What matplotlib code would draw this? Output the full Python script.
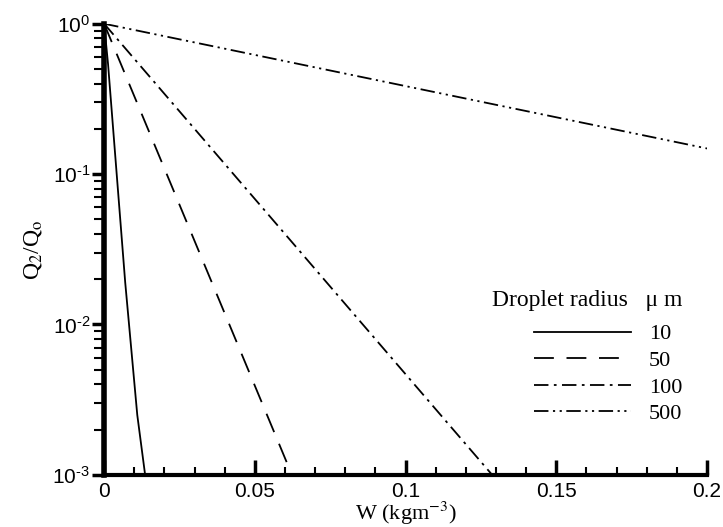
import numpy as np
import matplotlib
matplotlib.use('Agg')
import matplotlib.pyplot as plt
from matplotlib.ticker import MultipleLocator, LogLocator, NullFormatter

plt.rcParams['mathtext.fontset'] = 'custom'
plt.rcParams['mathtext.rm'] = 'Liberation Sans'
plt.rcParams['mathtext.it'] = 'Liberation Sans:italic'
plt.rcParams['mathtext.bf'] = 'Liberation Sans:bold'

# values
w_10 = [0.0, 0.0013, 0.007, 0.011, 0.0136]
q_10 = [1.0, 0.54, 0.019, 0.0025, 0.001]
w_50 = [0.0, 0.0623]
q_50 = [1.0, 0.001]
w_100 = [0.0, 0.1287]
q_100 = [1.0, 0.001]
w_500 = [0.0, 0.2]
q_500 = [1.0, 0.148]
radius_labels = ['10', '50', '100', '500']

ytick_vals = [1e-3, 1e-2, 1e-1, 1.0]
ytick_labels = ['$10^{\\text{-}3}$', '$10^{\\text{-}2}$', '$10^{\\text{-}1}$', '$10^{0}$']
xtick_vals = [0, 0.05, 0.1, 0.15, 0.2]
xtick_labels = ['0', '0.05', '0.1', '0.15', '0.2']

fig = plt.figure(figsize=(7.23, 5.27), dpi=100)
ax = fig.add_axes([0.144, 0.099, 0.834, 0.856])

ax.plot(w_10, q_10, color='black', lw=1.3, linestyle='-', label=radius_labels[0])
ax.plot(w_50, q_50, color='black', lw=1.3, linestyle=(0, (11, 7)), label=radius_labels[1])
ax.plot(w_100, q_100, color='black', lw=1.3, linestyle=(0, (8, 3, 1.5, 3)), label=radius_labels[2])
ax.plot(w_500, q_500, color='black', lw=1.3, linestyle=(0, (8, 2.5, 1.2, 2.5, 1.2, 2.5)), label=radius_labels[3])

ax.set_yscale('log')
ax.set_xlim(0, 0.2)
ax.set_ylim(1e-3, 1.0)

ax.spines['top'].set_visible(False)
ax.spines['right'].set_visible(False)
ax.spines['left'].set_linewidth(4)
ax.spines['bottom'].set_linewidth(3)

ax.set_xticks(xtick_vals)
ax.set_xticklabels(xtick_labels)
ax.xaxis.set_minor_locator(MultipleLocator(0.01))
ax.set_yticks(ytick_vals)
ax.set_yticklabels(ytick_labels)
ax.yaxis.set_minor_locator(LogLocator(base=10, subs=np.arange(2, 10)))
ax.yaxis.set_minor_formatter(NullFormatter())

ax.tick_params(axis='x', which='major', direction='in', length=11, width=2.5, labelsize=15, pad=5)
ax.tick_params(axis='x', which='minor', direction='in', length=6, width=1.5)
ax.tick_params(axis='y', which='major', direction='out', length=9, width=2.5, labelsize=15, pad=1)
ax.tick_params(axis='y', which='minor', direction='out', length=7, width=1.5)
for lab in ax.get_xticklabels() + ax.get_yticklabels():
    lab.set_fontfamily('Liberation Sans')

ax.set_xlabel('W (kgm$^{-3}$)', fontfamily='Liberation Serif', fontsize=16, labelpad=-1)
ax.set_ylabel('Q$_2$/Q$_\\mathrm{o}$', fontfamily='Liberation Serif', fontsize=17, labelpad=6)
ax.xaxis.label.set_math_fontfamily('stix')
ax.yaxis.label.set_math_fontfamily('stix')

leg = ax.legend(loc='lower right', bbox_to_anchor=(0.985, 0.078), frameon=False,
                title='Droplet radius   \u03bc m', handlelength=4.4, handletextpad=0.8,
                labelspacing=0.27, borderpad=0.2,
                prop={'family': 'Liberation Serif', 'size': 16})
leg.get_title().set_fontfamily('Liberation Serif')
leg.get_title().set_fontsize(17)
leg._legend_box.align = 'right'
leg._legend_box.sep = 9

fig.savefig('out.png', dpi=100)
